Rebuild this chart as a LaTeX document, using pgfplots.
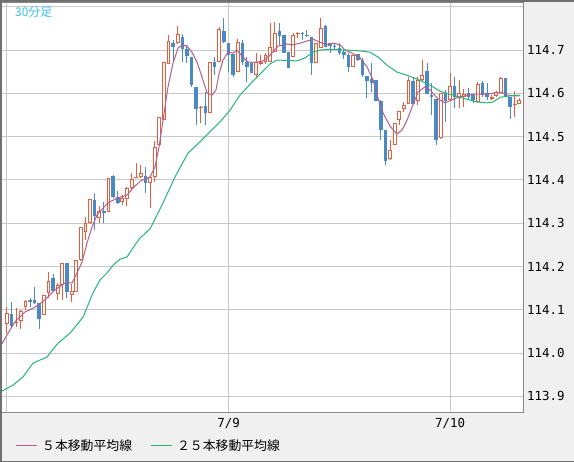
\documentclass[border=0pt]{standalone}
\usepackage{pgfplots}
\pgfplotsset{compat=1.18}
\usepackage{pgfplotstable}
\usepackage{fontspec}
\setmainfont{DejaVu Sans}
\newfontfamily\jp{Noto Sans CJK JP}
\newfontfamily\mono{DejaVu Sans Mono}
\definecolor{upc}{RGB}{222,96,62}
\definecolor{dnc}{RGB}{74,137,196}
\definecolor{ma5}{RGB}{181,94,140}
\definecolor{ma25}{RGB}{38,180,120}
\definecolor{bgc}{RGB}{240,240,240}
\definecolor{darkb}{RGB}{112,112,112}
\definecolor{framec}{RGB}{136,136,136}
\definecolor{gridc}{RGB}{200,200,200}
\definecolor{titlec}{RGB}{56,190,240}

\pgfplotstableread{
i O H L C
0 114.067 114.106 114.046 114.093
2 114.069 114.104 114.060 114.072
3 114.074 114.100 114.056 114.097
4 114.106 114.123 114.100 114.120
8 114.088 114.134 114.088 114.134
9 114.139 114.187 114.127 114.167
11 114.137 114.162 114.123 114.157
12 114.157 114.208 114.123 114.208
14 114.134 114.160 114.118 114.144
15 114.141 114.215 114.141 114.215
16 114.215 114.291 114.213 114.291
17 114.280 114.314 114.261 114.300
18 114.300 114.356 114.298 114.356
20 114.312 114.340 114.300 114.328
22 114.326 114.404 114.326 114.404
25 114.349 114.365 114.342 114.358
26 114.356 114.384 114.340 114.381
27 114.381 114.416 114.379 114.402
28 114.404 114.439 114.404 114.407
29 114.407 114.434 114.404 114.416
31 114.393 114.407 114.335 114.407
32 114.407 114.490 114.395 114.476
33 114.481 114.545 114.478 114.545
34 114.538 114.672 114.538 114.672
35 114.668 114.735 114.668 114.721
37 114.716 114.755 114.714 114.737
42 114.566 114.571 114.531 114.568
44 114.555 114.672 114.555 114.672
46 114.672 114.753 114.672 114.748
50 114.649 114.725 114.649 114.718
54 114.642 114.693 114.638 114.672
55 114.668 114.688 114.665 114.672
56 114.672 114.693 114.668 114.688
57 114.672 114.762 114.672 114.707
58 114.695 114.765 114.695 114.739
62 114.684 114.739 114.684 114.735
63 114.737 114.742 114.728 114.739
67 114.670 114.716 114.670 114.716
68 114.705 114.774 114.705 114.751
75 114.661 114.688 114.661 114.688
83 114.448 114.492 114.446 114.469
84 114.481 114.531 114.481 114.531
85 114.538 114.559 114.527 114.559
86 114.564 114.580 114.557 114.573
87 114.575 114.638 114.575 114.631
89 114.582 114.638 114.573 114.631
90 114.631 114.677 114.626 114.642
94 114.497 114.601 114.494 114.601
96 114.585 114.647 114.585 114.617
98 114.589 114.631 114.566 114.601
99 114.591 114.610 114.568 114.598
102 114.580 114.626 114.580 114.621
105 114.587 114.596 114.585 114.591
106 114.594 114.605 114.591 114.603
107 114.601 114.638 114.601 114.635
110 114.573 114.605 114.545 114.575
111 114.575 114.589 114.575 114.585
}\upt

\pgfplotstableread{
i O H L C
1 114.090 114.118 114.060 114.063
5 114.123 114.127 114.106 114.118
6 114.123 114.153 114.113 114.116
7 114.116 114.116 114.056 114.079
10 114.173 114.183 114.141 114.144
13 114.208 114.208 114.127 114.141
19 114.354 114.370 114.284 114.317
21 114.328 114.349 114.300 114.324
23 114.409 114.411 114.358 114.360
24 114.360 114.374 114.344 114.347
30 114.409 114.430 114.370 114.393
36 114.716 114.723 114.672 114.707
38 114.730 114.737 114.672 114.702
39 114.702 114.712 114.670 114.686
40 114.684 114.684 114.615 114.619
41 114.615 114.615 114.527 114.564
43 114.571 114.603 114.527 114.555
45 114.672 114.684 114.642 114.661
47 114.744 114.774 114.716 114.718
48 114.716 114.716 114.649 114.688
49 114.691 114.691 114.638 114.642
51 114.716 114.723 114.665 114.672
52 114.672 114.684 114.626 114.661
53 114.670 114.672 114.647 114.647
59 114.744 114.762 114.712 114.732
60 114.735 114.735 114.693 114.693
61 114.695 114.695 114.658 114.658
64 114.739 114.742 114.723 114.737
65 114.735 114.746 114.730 114.732
66 114.730 114.730 114.642 114.670
69 114.755 114.758 114.707 114.707
70 114.716 114.716 114.693 114.709
71 114.709 114.716 114.700 114.707
72 114.705 114.716 114.688 114.693
73 114.695 114.700 114.679 114.688
74 114.688 114.693 114.649 114.661
76 114.691 114.691 114.675 114.677
77 114.677 114.682 114.638 114.642
78 114.640 114.640 114.589 114.628
79 114.633 114.670 114.603 114.624
80 114.631 114.631 114.582 114.582
81 114.582 114.585 114.492 114.515
82 114.515 114.515 114.434 114.444
88 114.628 114.638 114.575 114.575
91 114.652 114.670 114.598 114.598
92 114.596 114.624 114.550 114.591
93 114.587 114.587 114.481 114.492
95 114.601 114.608 114.534 114.582
97 114.617 114.638 114.566 114.591
100 114.601 114.612 114.585 114.591
101 114.596 114.598 114.578 114.585
103 114.624 114.628 114.591 114.596
104 114.601 114.624 114.585 114.591
108 114.635 114.635 114.591 114.591
109 114.591 114.591 114.541 114.568
}\dnt

\pgfplotstableread{
i v
-1.52 114.014
0 114.042
1.73 114.072
3.90 114.095
6.07 114.106
8.23 114.123
10.40 114.146
12.57 114.162
14.08 114.162
15.17 114.185
16.25 114.210
17.33 114.254
18.42 114.291
19.50 114.319
20.80 114.335
21.88 114.347
23.84 114.358
26.00 114.365
27.30 114.381
28.82 114.397
31.00 114.407
32.07 114.430
32.94 114.476
33.81 114.538
34.89 114.615
35.98 114.670
37.07 114.705
38.14 114.712
39.00 114.709
40.09 114.695
41.17 114.672
42.25 114.638
43.34 114.601
44.42 114.596
45.29 114.608
45.94 114.645
46.81 114.677
47.89 114.695
48.97 114.693
49.84 114.700
50.92 114.686
52.22 114.672
54.17 114.672
55.47 114.675
56.99 114.688
58.72 114.709
60.67 114.714
61.97 114.712
63.49 114.716
65.01 114.721
66.31 114.725
67.17 114.721
68.26 114.716
69.56 114.712
70.64 114.716
72.16 114.712
73.24 114.700
74.76 114.693
76.49 114.682
78.01 114.661
79.31 114.631
80.39 114.589
81.47 114.555
82.99 114.524
84.51 114.506
85.59 114.515
86.67 114.538
87.76 114.568
89.06 114.603
90.57 114.615
91.66 114.608
93.39 114.587
94.91 114.578
96.42 114.585
97.72 114.591
99.24 114.594
100.98 114.598
102.49 114.598
104.01 114.598
105.74 114.601
107.26 114.601
108.56 114.596
110.08 114.594
111.16 114.594
}\mafive

\pgfplotstableread{
i v
-1.52 113.910
1.30 113.926
3.47 113.945
5.63 113.977
8.67 113.991
9.97 114.009
11.05 114.023
13.65 114.046
16.47 114.083
18.63 114.139
20.15 114.169
21.67 114.185
22.97 114.203
24.49 114.217
26.00 114.222
27.74 114.250
28.82 114.266
31.00 114.287
33.80 114.347
36.40 114.407
39.22 114.462
41.82 114.488
43.99 114.511
46.15 114.534
48.32 114.561
50.49 114.596
53.09 114.626
55.25 114.649
56.99 114.668
58.50 114.677
62.84 114.675
64.57 114.682
66.31 114.695
67.82 114.700
69.99 114.702
73.67 114.700
76.49 114.698
78.66 114.695
80.39 114.684
82.34 114.665
84.51 114.649
86.67 114.642
88.84 114.633
91.66 114.619
93.83 114.605
95.99 114.598
98.81 114.589
101.84 114.580
104.01 114.578
105.31 114.580
106.83 114.591
108.99 114.594
111.16 114.596
}\matwentyfive

\begin{document}
\begin{tikzpicture}
\useasboundingbox (0,0) rectangle (574bp,-462bp);
\fill[bgc] (0,0) rectangle (574bp,-462bp);
\begin{axis}[
  at={(2bp,-2bp)}, anchor=north west,
  scale only axis, width=521bp, height=410bp,
  xmin=-1.08, xmax=111.8, ymin=113.864, ymax=114.811,
  axis background/.style={fill=white},
  axis line style={draw=framec, line width=1bp},
  xtick={0,48,96}, xticklabels={,7/9,7/10},
  ytick={113.9,114.0,114.1,114.2,114.3,114.4,114.5,114.6,114.7,114.8},
  yticklabels={113.9,114.0,114.1,114.2,114.3,114.4,114.5,114.6,114.7,},
  yticklabel pos=right,
  major tick length=0pt,
  grid=major, grid style={draw=gridc, line width=1bp},
  tick label style={font=\mono\fontsize{12.5}{12.5}\selectfont, text=black, inner sep=0pt},
  yticklabel style={anchor=west, xshift=4bp},
  xticklabel style={anchor=north, yshift=-6bp},
  legend columns=2,
  legend style={at={(0,0)}, anchor=north west, xshift=13bp, yshift=-25bp,
    draw=none, fill=none, inner sep=0pt,
    font=\jp\fontsize{12.9}{12.9}\selectfont,
    /tikz/every odd column/.append style={column sep=3bp},
    /tikz/every even column/.append style={column sep=16bp}},
  legend image code/.code={\draw[#1,line width=1bp] (0bp,0bp) -- (21bp,0bp);},
]
% wicks
\addplot[forget plot, draw=none, mark=none, error bars/.cd, y dir=plus, y explicit, error mark=none,
  error bar style={draw=upc, line width=1bp, solid}]
  table[x=i, y=L, y error plus expr=\thisrow{H}-\thisrow{L}] {\upt};
\addplot[forget plot, draw=none, mark=none, error bars/.cd, y dir=plus, y explicit, error mark=none,
  error bar style={draw=dnc, line width=1bp, solid}]
  table[x=i, y=L, y error plus expr=\thisrow{H}-\thisrow{L}] {\dnt};
% up bodies (hollow)
\addplot[forget plot, draw=none, mark=none, error bars/.cd, y dir=plus, y explicit, error mark=none,
  error bar style={draw=upc, line width=3.8bp, solid}]
  table[x=i, y=O, y error plus expr=\thisrow{C}-\thisrow{O}] {\upt};
\addplot[forget plot, draw=none, mark=none, error bars/.cd, y dir=plus, y explicit, error mark=none,
  error bar style={draw=white, line width=1.8bp, solid}]
  table[x=i, y expr=\thisrow{O}+0.0023, y error plus expr={max(\thisrow{C}-\thisrow{O}-0.0046,0)}] {\upt};
% down bodies (filled)
\addplot[forget plot, draw=none, mark=none, error bars/.cd, y dir=plus, y explicit, error mark=none,
  error bar style={draw=dnc, line width=3.6bp, solid}]
  table[x=i, y=C, y error plus expr=\thisrow{O}-\thisrow{C}] {\dnt};
% moving averages
\addplot[ma5, line width=1bp, mark=none] table[x=i, y=v] {\mafive};
\addlegendentry{５本移動平均線}
\addplot[ma25, line width=1bp, mark=none] table[x=i, y=v] {\matwentyfive};
\addlegendentry{２５本移動平均線}
\node[anchor=west, text=titlec, font=\jp\fontsize{12}{12}\selectfont, inner sep=0pt]
  at (rel axis cs:0,1) [xshift=13bp, yshift=-10bp] {30分足};
\end{axis}
\draw[darkb, line width=2bp] (1bp,-462bp) -- (1bp,0) ;
\draw[darkb, line width=2bp] (0,-1bp) -- (574bp,-1bp);
\draw[darkb, line width=1bp] (0,-461.5bp) -- (574bp,-461.5bp);
\end{tikzpicture}
\end{document}
